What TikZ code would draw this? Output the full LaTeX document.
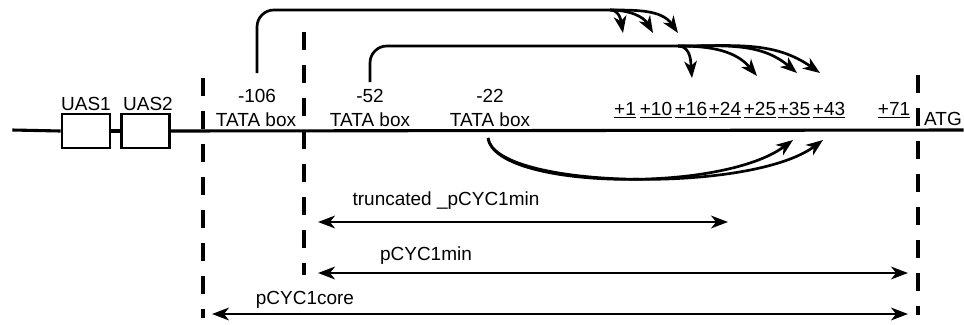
\documentclass[tikz,border=0pt]{standalone}
\usepackage{fontspec}
\setmainfont{Liberation Sans}
\usetikzlibrary{positioning,arrows.meta}

\begin{document}
\begin{tikzpicture}[x=0.025cm, y=0.025cm,
  every node/.style={font=\fontsize{13.5}{15}\selectfont, inner sep=1pt},
  point/.style={inner sep=0pt,minimum size=0pt},
  uas/.style={rectangle,draw,fill=white,line width=2pt,minimum width=1.2cm,minimum height=0.85cm,inner sep=0pt},
  cut/.style={line width=2.2pt,dash pattern=on 0.45cm off 0.375cm},
  hop/.style={line width=1.9pt,-{Stealth[length=12pt,width=9pt,inset=3.5pt]}},
  span/.style={line width=1.9pt,{Stealth[length=12pt,width=9pt,inset=3.5pt]}-{Stealth[length=12pt,width=9pt,inset=3.5pt]}},
  arc/.style={line width=1.9pt,rounded corners=12pt}]
\useasboundingbox (0,0) rectangle (964,324);

%\node (dna) [] {promoter};
\node[point] (start) at (12,194)  {};
\node[point] (stop)  at (964,194) {};
\node[uas] (U1) at (86,193)  {};
\node[uas] (U2) at (145.5,193) {};
\node (UAS1) [anchor=base] at (86,214)  {UAS1};
\node (UAS2) [anchor=base] at (148,214) {UAS2};
%
\node (m106) [anchor=base] at (257,222) {-106};
\node (t106) [anchor=base] at (256,198) {TATA box};
\node (m52)  [anchor=base] at (370,222) {-52};
\node (t52)  [anchor=base] at (370,198) {TATA box};
\node (m22)  [anchor=base] at (490,222) {-22};
\node (t22)  [anchor=base] at (490,198) {TATA box};
%
\node (p1)  [anchor=base] at (625,209) {\underline{+1}};
\node (p10) [anchor=base] at (656,209) {\underline{+10}};
\node (p16) [anchor=base] at (691,209) {\underline{+16}};
\node (p24) [anchor=base] at (725,209) {\underline{+24}};
\node (p25) [anchor=base] at (760,209) {\underline{+25}};
\node (p35) [anchor=base] at (794,209) {\underline{+35}};
\node (p43) [anchor=base] at (829,209) {\underline{+43}};
\node (p71) [anchor=base] at (894,209) {\underline{+71}};
\node (ATG) [anchor=base] at (943,199) {ATG};

% borders of the promoter pieces
\coordinate (c1t) at (203,246); \coordinate (c1b) at (203,6);
\coordinate (c2t) at (304,292); \coordinate (c2b) at (304,49);
\coordinate (c3t) at (918,249); \coordinate (c3b) at (918,9);

% start sites
\coordinate (s106) at (257,251);
\coordinate (b106) at (610,314);
\coordinate (e1a) at (623,291);
\coordinate (e1b) at (653,291);
\coordinate (e1c) at (678,291);
\coordinate (s52) at (370,242);
\coordinate (b52) at (678,278);
\coordinate (e2a) at (692,246);
\coordinate (e2b) at (757,248);
\coordinate (e2c) at (797,251);
\coordinate (e2d) at (820,251);
\coordinate (s22) at (488,186);
\coordinate (e3a) at (793,184);
\coordinate (e3b) at (823,184);

% fragments
\coordinate (a1l) at (318,102); \coordinate (a1r) at (728,102);
\coordinate (a2l) at (318,51);  \coordinate (a2r) at (908,51);
\coordinate (a3l) at (212,10);  \coordinate (a3r) at (908,10);
\node (trunc) [anchor=base] at (446,119) {truncated \_pCYC1min};
\node (min)   [anchor=base] at (426,64)  {pCYC1min};
\node (core)  [anchor=base] at (305,20)  {pCYC1core};

\draw[line width=2.2pt] (start) -- (U1.west);
\draw[line width=2.2pt] (U1.east) -- (U2.west);
\draw[line width=2.2pt] (U2.east) -- (stop);
\draw[cut] (c1t) -- (c1b);
\draw[cut] (c2t) -- (c2b);
\draw[cut] (c3t) -- (c3b);

\draw[arc] (s106) |- (b106);
\draw[hop] (b106) to[out=0,in=100] (e1a);
\draw[hop] (b106) to[out=0,in=120] (e1b);
\draw[hop] (b106) to[out=0,in=125] (e1c);
\draw[arc] (s52) |- (b52);
\draw[hop] (b52) to[out=0,in=95] (e2a);
\draw[hop] (b52) to[out=0,in=130] (e2b);
\draw[hop] (b52) to[out=0,in=140] (e2c);
\draw[hop] (b52) to[out=0,in=145] (e2d);
\draw[hop] (s22) .. controls (495,135) and (720,130) .. (e3a);
\draw[hop] (s22) .. controls (495,135) and (750,130) .. (e3b);

\draw[span] (a1l) -- (a1r);
\draw[span] (a2l) -- (a2r);
\draw[span] (a3l) -- (a3r);

\end{tikzpicture}
\end{document}
